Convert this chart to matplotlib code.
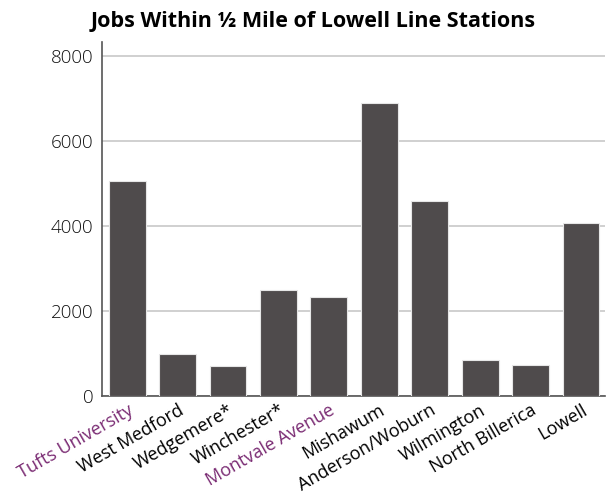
import matplotlib
matplotlib.use("Agg")
import matplotlib.pyplot as plt

stations = ["Tufts University", "West Medford", "Wedgemere*", "Winchester*",
            "Montvale Avenue", "Mishawum", "Anderson/Woburn", "Wilmington",
            "North Billerica", "Lowell"]
jobs = [5050, 980, 700, 2490, 2320, 6900, 4585, 840, 715, 4065]
highlight = ["Tufts University", "Montvale Avenue"]
yticks = [0, 2000, 4000, 6000, 8000]

plt.rcParams['font.family'] = ['Open Sans', 'DejaVu Sans']

fig = plt.figure(figsize=(6.07, 4.96), dpi=100)
ax = fig.add_axes([0.168, 0.2026, 0.829, 0.7124])

x = list(range(len(stations)))
ax.bar(x, jobs, width=0.73, color="#4f4b4c", edgecolor="#e6e6e6", linewidth=0.8, zorder=3)

ax.set_xlim(-0.5, 9.48)
ax.set_ylim(0, 8330)
ax.set_yticks(yticks)
ax.set_yticklabels([str(v) for v in yticks], fontsize=13.5, fontweight=300, color="#111111")
ax.yaxis.grid(True, color="#c8c8c8", linewidth=1.2, zorder=0)
ax.set_axisbelow(True)
ax.tick_params(axis='both', length=0, pad=6)

ax.set_xticks(x)
ax.set_xticklabels(stations, rotation=30, ha='right', rotation_mode='anchor',
                   fontsize=13, color="black")
for lbl, s in zip(ax.get_xticklabels(), stations):
    if s in highlight:
        lbl.set_color("#7a2b73")
ax.tick_params(axis='x', pad=4)

for side in ["top", "right"]:
    ax.spines[side].set_visible(False)
ax.spines["left"].set_color("#555555")
ax.spines["bottom"].set_color("#555555")
ax.spines["left"].set_linewidth(1.2)
ax.spines["bottom"].set_linewidth(1.2)

fig.text(0.5165, 0.956, "Jobs Within ½ Mile of Lowell Line Stations", ha='center', va='center',
         fontsize=15.5, fontweight='bold', color="black")

fig.savefig("out.png", dpi=100)
